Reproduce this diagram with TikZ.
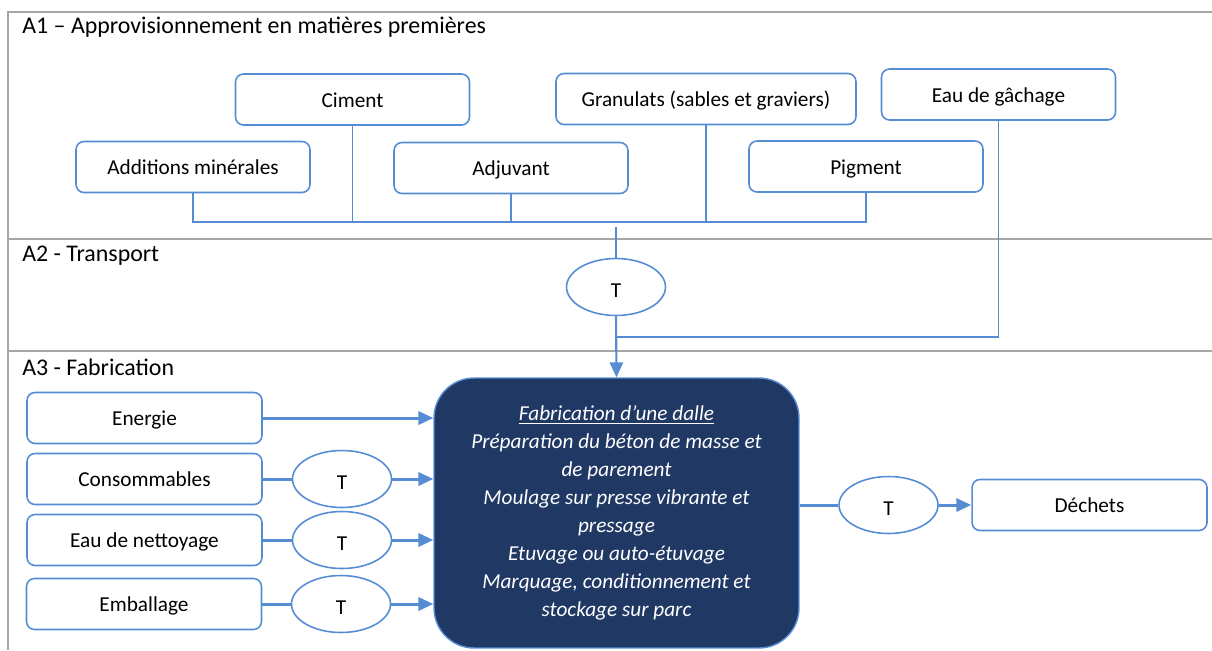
\documentclass[tikz,border=0pt]{standalone}
\usepackage{fontspec}
\setmainfont{Carlito}
\usetikzlibrary{shapes.geometric}
\usetikzlibrary{arrows.meta}
\definecolor{lineblue}{RGB}{86,140,212}
\definecolor{navy}{RGB}{32,56,100}
\definecolor{framegray}{RGB}{166,166,166}

\begin{document}
\begin{tikzpicture}[x=0.02cm,y=-0.02cm,
        box/.style={draw=lineblue, line width=0.9pt, rounded corners=0.16cm, minimum width=4.68cm, minimum height=1.02cm, inner sep=0pt, text height=11.5pt, text depth=2.5pt, font=\fontsize{12.1}{14}\selectfont},
        tbubble/.style={draw=lineblue, line width=0.9pt, ellipse, minimum width=1.98cm, minimum height=1.14cm, inner sep=0pt, text height=14pt, text depth=1.7pt, font=\fontsize{12.1}{14}\selectfont},
        bigbox/.style={fill=navy, draw=lineblue, line width=0.8pt, rounded corners=0.8cm, minimum width=7.3cm, minimum height=5.4cm, align=center, text=white, font=\itshape\fontsize{12.1}{15.9}\selectfont},
        link/.style={draw=lineblue, line width=0.9pt},
        drop/.style={draw=lineblue, line width=1.2pt, -{Triangle[length=8.5pt,width=7.5pt]}},
        feed/.style={draw=lineblue, line width=1.7pt},
        flow/.style={draw=lineblue, line width=1.7pt, -{Triangle[length=8.5pt,width=7.5pt]}},
        lane/.style={draw=framegray, line width=1.2pt},
        lanetitle/.style={anchor=west, inner sep=0pt, font=\fontsize{13.6}{16}\selectfont}]
        \useasboundingbox (0,0) rectangle (1212,650);
        \draw[lane](8,650)--(8,12)--(1212,12);
        \draw[lane](8,239)--(1212,239);
        \draw[lane](8,351)--(1212,351);
        \node[lanetitle] (a1) at (22,27){A1 – Approvisionnement en matières premières};
        \node[lanetitle] (a2) at (22,256){A2 - Transport};
        \node[lanetitle] (a3) at (22,367){A3 - Fabrication};

        \node[box] (ciment) at (352.5,99.5){Ciment};
        \node[box, minimum width=6cm] (granul) at (706,99){Granulats (sables et graviers)};
        \node[box] (eaug) at (998.5,94.5){Eau de gâchage};
        \node[box] (addmin) at (193,167){Additions minérales};
        \node[box] (adjuv) at (511,168){Adjuvant};
        \node[box] (pigment) at (866,166.5){Pigment};
        \coordinate (bus) at (616,222);
        \coordinate (tap) at (616,227);
        \coordinate (join) at (616,337);
        \draw[link](addmin.south)|-(pigment.south |- bus)--(pigment.south);
        \draw[link](ciment.south)--(ciment.south |- bus);
        \draw[link](adjuv.south)--(adjuv.south |- bus);
        \draw[link](granul.south)--(granul.south |- bus);

        \node[tbubble] (tA2) at (616,287){T};
        \node[bigbox] (fab) at (616.5,513){\underline{Fabrication d’une dalle}\\Préparation du béton de masse et\\de parement\\Moulage sur presse vibrante et\\pressage\\Etuvage ou auto-étuvage\\Marquage, conditionnement et\\stockage sur parc};
        \draw[link](tap)--(tA2.north);
        \draw[drop](tA2.south)--(fab.north);
        \draw[link](eaug.south)|-(join);

        \node[box, minimum width=4.7cm] (energie) at (144.5,418){Energie};
        \node[box, minimum width=4.7cm] (conso) at (144.5,479){Consommables};
        \node[box, minimum width=4.7cm] (eaunet) at (144.5,540){Eau de nettoyage};
        \node[box, minimum width=4.7cm] (emball) at (144,604){Emballage};
        \node[tbubble] (tconso) at (342,479){T};
        \node[tbubble] (teaun) at (342,540){T};
        \node[tbubble] (temb) at (341,604){T};
        \draw[flow](energie.east)--(energie -| fab.west);
        \draw[feed](conso.east)--(tconso.west);
        \draw[flow](tconso.east)--(tconso -| fab.west);
        \draw[feed](eaunet.east)--(teaun.west);
        \draw[flow](teaun.east)--(teaun -| fab.west);
        \draw[feed](emball.east)--(temb.west);
        \draw[flow](temb.east)--(temb -| fab.west);

        \node[tbubble] (tdech) at (888.5,505){T};
        \node[box, minimum width=4.7cm] (dechets) at (1089.5,505){Déchets};
        \draw[feed](tdech -| fab.east)--(tdech.west);
        \draw[flow](tdech.east)--(dechets.west);
    \end{tikzpicture}
\end{document}
